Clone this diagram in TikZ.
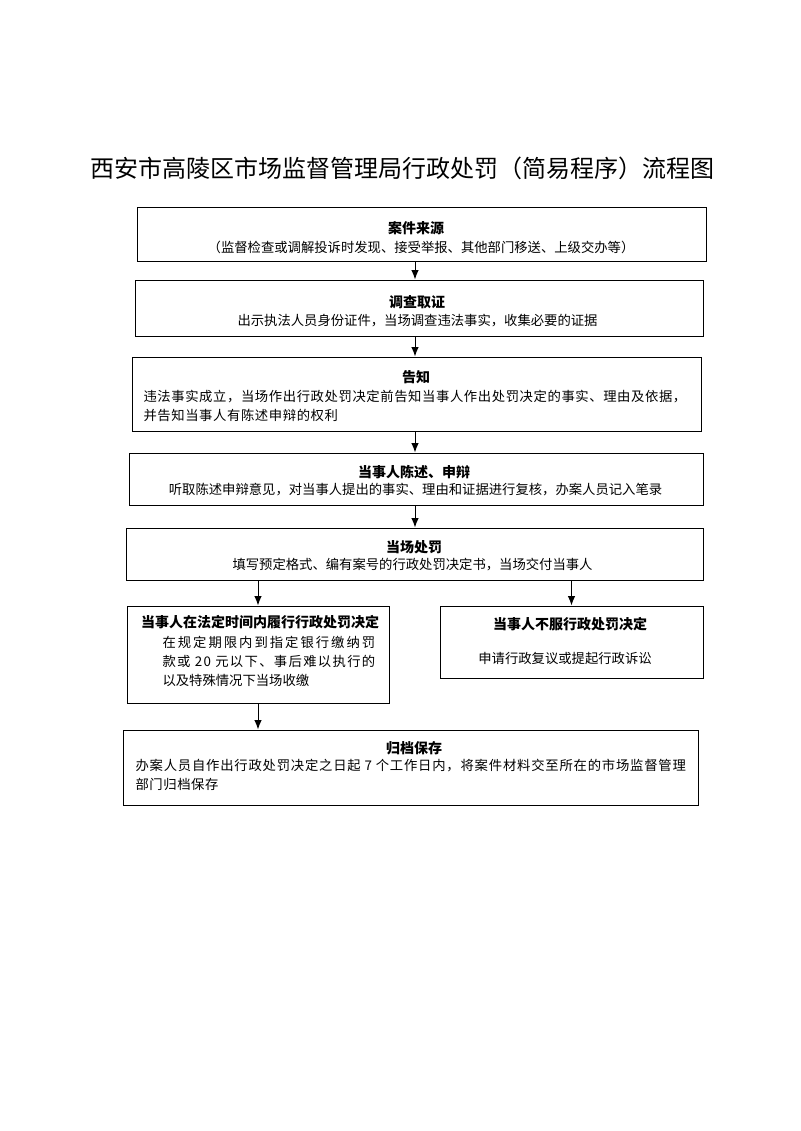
\documentclass[tikz,border=0pt]{standalone}
\usepackage{fontspec}
\setmainfont{Noto Sans CJK SC}
\usetikzlibrary{arrows.meta}
\begin{document}
\begin{tikzpicture}[x=0.75pt,y=-0.75pt,line width=0.75pt,
  box/.style 2 args={draw,minimum width=#1*0.75pt,minimum height=#2*0.75pt,inner sep=0pt},
  head/.style={inner sep=0pt,font=\fontsize{10.5}{12}\selectfont\bfseries},
  txt/.style={inner sep=0pt,font=\fontsize{10}{12}\selectfont},
  wide/.style={inner sep=0pt,anchor=west,font=\fontsize{10}{12}\selectfont\addfontfeature{LetterSpace=4.5}},
  >={Latex[length=7pt,width=5.5pt]}]
\useasboundingbox (0,0) rectangle (800,1131);
\node[font=\fontsize{18}{22}\selectfont] (title) at (402.5,168) {西安市高陵区市场监督管理局行政处罚（简易程序）流程图};
\node[box={569}{54}] (source) at (421.5,234) {};
\node[box={568}{56}] (inquiry) at (419,308) {};
\node[box={569}{74}] (notice) at (416.5,394) {};
\node[box={574}{52}] (defence) at (416,479) {};
\node[box={577}{52}] (penalty) at (414.5,554) {};
\node[box={262}{97}] (pay) at (258,654.5) {};
\node[box={263}{72}] (appeal) at (571.5,642) {};
\node[box={575}{75}] (archive) at (410.5,767.5) {};
\node[head] (source-h) at (416,228) {案件来源};
\node[txt] (source-t) at (421,247) {（监督检查或调解投诉时发现、接受举报、其他部门移送、上级交办等）};
\node[head] (inquiry-h) at (417,302) {调查取证};
\node[txt] (inquiry-t) at (417.5,321) {出示执法人员身份证件，当场调查违法事实，收集必要的证据};
\node[head] (notice-h) at (416,377) {告知};
\node[wide] (notice-t1) at (143,397) {违法事实成立，当场作出行政处罚决定前告知当事人作出处罚决定的事实、理由及依据，};
\node[wide] (notice-t2) at (143,415) {并告知当事人有陈述申辩的权利};
\node[head] (defence-h) at (414,472) {当事人陈述、申辩};
\node[txt] (defence-t) at (415.5,490) {听取陈述申辩意见，对当事人提出的事实、理由和证据进行复核，办案人员记入笔录};
\node[head] (penalty-h) at (414,547) {当场处罚};
\node[txt] (penalty-t) at (412.5,565) {填写预定格式、编有案号的行政处罚决定书，当场交付当事人};
\node[head] (pay-h) at (260,622) {当事人在法定时间内履行行政处罚决定};
\node[wide,font=\addfontfeature{LetterSpace=15}] (pay-t1) at (162,642) {在规定期限内到指定银行缴纳罚};
\node[wide,font=\addfontfeature{LetterSpace=10}] (pay-t2) at (162,661) {款或 20 元以下、事后难以执行的};
\node[txt,anchor=west] (pay-t3) at (162,680) {以及特殊情况下当场收缴};
\node[head] (appeal-h) at (570,624) {当事人不服行政处罚决定};
\node[txt] (appeal-t) at (565,658) {申请行政复议或提起行政诉讼};
\node[head] (archive-h) at (414,748) {归档保存};
\node[wide,font=\addfontfeature{LetterSpace=6}] (archive-t1) at (135,766) {办案人员自作出行政处罚决定之日起 7 个工作日内，将案件材料交至所在的市场监督管理};
\node[wide] (archive-t2) at (135,784) {部门归档保存};
\coordinate (spine) at (415,0);
\draw[->] (source.south -| spine) -- (inquiry.north -| spine);
\draw[->] (inquiry.south -| spine) -- (notice.north -| spine);
\draw[->] (notice.south -| spine) -- (defence.north -| spine);
\draw[->] (defence.south -| spine) -- (penalty.north -| spine);
\draw[->] (penalty.south -| pay) -- (pay.north);
\draw[->] (penalty.south -| appeal) -- (appeal.north);
\draw[->] (pay.south) -- (pay.south |- archive.north);
\end{tikzpicture}
\end{document}
